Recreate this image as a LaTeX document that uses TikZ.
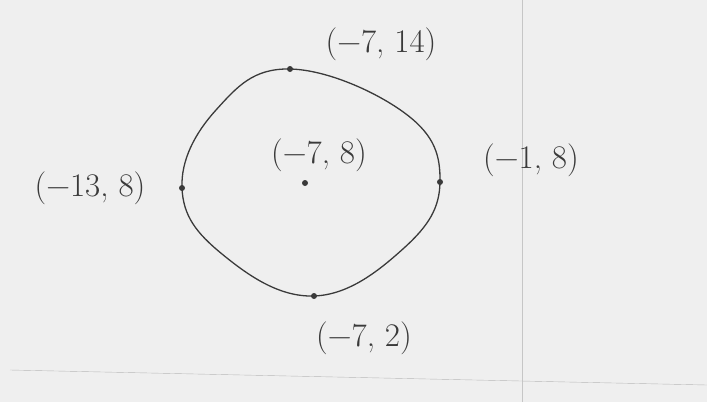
\documentclass[tikz,border=0pt]{standalone}
\usepackage{amsmath,amssymb}
\usepackage{xcolor}
\usepackage{tikz}

\definecolor{paper}{HTML}{EFEFEF}
\definecolor{pencil}{HTML}{3A3A3A}

\begin{document}
\begin{tikzpicture}[x=1pt,y=-1pt,font=\fontsize{33}{36}\selectfont,
    dot/.style={circle,fill=pencil,inner sep=0pt,minimum size=6pt},
    coordlabel/.style={text=pencil,inner sep=1pt}]
  \useasboundingbox (0,0) rectangle (707,402);
  \fill[paper] (0,0) rectangle (707,402);
  % faint ruling of the sheet
  \draw[gray!45,very thin] (522,0)--(522,402);
  \draw[gray!55,thin] (10,370)--(707,385);
  % points on the circle
  \coordinate (top) at (290,69);
  \coordinate (right) at (440,182);
  \coordinate (bottom) at (314,296);
  \coordinate (left) at (182,188);
  \coordinate (center) at (305,183);
  \draw[pencil,line width=1.3pt] plot[smooth cycle,tension=0.7] coordinates
    {(top) (406,114) (right) (404,248) (bottom) (222,254) (left) (216,110)};
  \foreach \pos in {top,right,bottom,left,center}
    \node[dot] (\pos dot) at (\pos) {};
  \node[coordlabel] (toplabel) at (381,44) {(−7, 14)};
  \node[coordlabel] (centerlabel) at (319,155) {(−7, 8)};
  \node[coordlabel] (leftlabel) at (90,188) {(−13, 8)};
  \node[coordlabel] (rightlabel) at (531,160) {(−1, 8)};
  \node[coordlabel] (bottomlabel) at (364,338) {(−7, 2)};
\end{tikzpicture}
\end{document}
